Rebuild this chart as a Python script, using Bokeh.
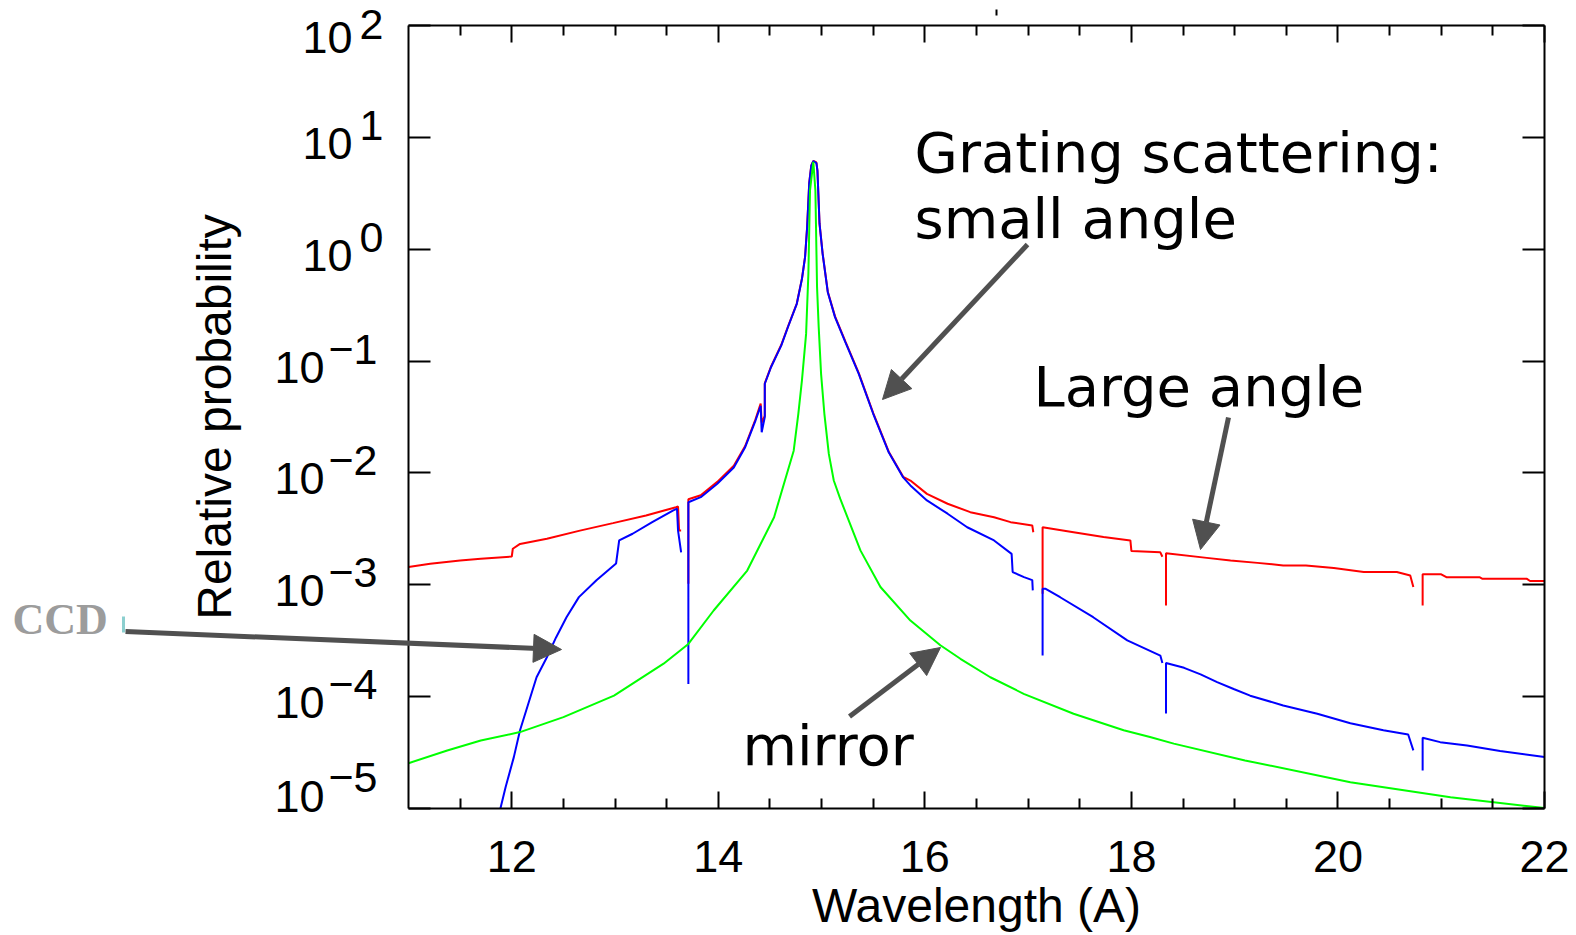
import math
from bokeh.plotting import figure
from bokeh.models import (ColumnDataSource, FixedTicker, LinearAxis, LogAxis, Label,
                          Arrow, NormalHead, CustomJSTickFormatter)
from bokeh.embed import file_html
from bokeh.resources import INLINE

nan = float("nan")

# ---------------- data ----------------
x_major = [12, 14, 16, 18, 20, 22]
x_minor = [11.5, 12.5, 13, 13.5, 14.5, 15, 15.5, 16.5, 17, 17.5, 18.5, 19, 19.5, 20.5, 21, 21.5]
y_major = [1e-5, 1e-4, 1e-3, 1e-2, 1e-1, 1e0, 1e1, 1e2]

# Large angle grating scattering (red)
red_x = [11.00, 11.21, 11.50, 11.70, 12.00, 12.01, 12.08, 12.34, 12.66, 12.98, 13.30, 13.59,
         13.61, 13.62, 13.64, nan,
         13.71, 13.71, 13.83, 13.99, 14.15, 14.26, 14.36, 14.41, 14.42, 14.45, 14.45, 14.51,
         14.61, 14.68, 14.76, 14.81, 14.84, 14.86, 14.88, 14.90, 14.92, 14.95, 14.96, 14.98,
         15.01, 15.06, 15.13, 15.23, 15.36, 15.50, 15.65, 15.79, 15.86, 16.02, 16.22, 16.44,
         16.67, 16.83, 17.04, 17.05, nan,
         17.14, 17.14, 17.44, 17.73, 17.99, 18.00, 18.28, 18.30, nan,
         18.335, 18.335, 18.73, 18.96, 19.22, 19.47, 19.69, 19.96, 20.25, 20.57, 20.70, 20.73, nan,
         20.82, 20.82, 21.00, 21.05, 21.37, 21.40, 21.83, 21.86, 22.00]
red_y = [1.44e-3, 1.54e-3, 1.65e-3, 1.71e-3, 1.79e-3, 2.10e-3, 2.32e-3, 2.58e-3, 3.05e-3, 3.56e-3, 4.17e-3, 4.94e-3,
         5.01e-3, 3.05e-3, 3.05e-3, nan,
         1.02e-3, 5.82e-3, 6.31e-3, 8.32e-3, 1.16e-2, 1.74e-2, 3.02e-2, 4.17e-2, 2.82e-2, 3.24e-2, 6.31e-2, 8.91e-2,
         0.140, 0.210, 0.327, 0.547, 0.855, 1.58, 3.89, 5.62, 6.17, 5.96, 5.01, 1.70,
         0.916, 0.417, 0.251, 0.150, 7.80e-2, 3.43e-2, 1.55e-2, 9.23e-3, 8.55e-3, 6.50e-3, 5.30e-3, 4.46e-3,
         4.02e-3, 3.63e-3, 3.39e-3, 2.95e-3, nan,
         8.32e-4, 3.27e-3, 2.95e-3, 2.67e-3, 2.49e-3, 2.00e-3, 1.95e-3, 1.78e-3, nan,
         6.53e-4, 1.91e-3, 1.74e-3, 1.65e-3, 1.57e-3, 1.49e-3, 1.49e-3, 1.41e-3, 1.30e-3, 1.30e-3, 1.21e-3, 9.55e-4, nan,
         6.53e-4, 1.24e-3, 1.24e-3, 1.17e-3, 1.17e-3, 1.13e-3, 1.13e-3, 1.08e-3, 1.08e-3]

# Small angle grating scattering (blue)
blue_x = [11.89, 11.94, 12.02, 12.08, 12.16, 12.24, 12.34, 12.43, 12.53, 12.65, 12.82, 13.01,
          13.04, 13.17, 13.36, 13.56, 13.60, 13.61, 13.64, nan,
          13.71, 13.71, 13.83, 13.99, 14.15, 14.26, 14.36, 14.41, 14.42, 14.45, 14.45, 14.51,
          14.61, 14.68, 14.76, 14.81, 14.84, 14.86, 14.88, 14.90, 14.92, 14.95, 14.96, 14.98,
          15.01, 15.06, 15.13, 15.23, 15.36, 15.50, 15.65, 15.79, 15.86, 16.02, 16.22, 16.41,
          16.67, 16.84, 16.85, 16.96, 17.04, 17.045, nan,
          17.14, 17.14, 17.17, 17.31, 17.63, 17.96, 18.28, 18.30, nan,
          18.335, 18.335, 18.51, 18.67, 18.83, 18.99, 19.15, 19.47, 19.80, 20.12, 20.44, 20.68, 20.73, nan,
          20.82, 20.82, 20.99, 21.25, 21.57, 22.00]
blue_y = [1.0e-5, 1.55e-5, 2.88e-5, 5.01e-5, 8.63e-5, 1.49e-4, 2.25e-4, 3.40e-4, 5.13e-4, 7.76e-4, 1.10e-3, 1.55e-3,
          2.49e-3, 2.86e-3, 3.63e-3, 4.61e-3, 4.79e-3, 3.05e-3, 1.95e-3, nan,
          1.30e-4, 5.47e-3, 6.07e-3, 8.00e-3, 1.12e-2, 1.70e-2, 2.94e-2, 3.98e-2, 2.31e-2, 3.16e-2, 6.27e-2, 8.81e-2,
          0.138, 0.208, 0.325, 0.543, 0.849, 1.57, 3.85, 5.56, 6.12, 5.89, 5.01, 1.69,
          0.910, 0.413, 0.247, 0.148, 7.69e-2, 3.38e-2, 1.53e-2, 9.12e-3, 7.73e-3, 5.68e-3, 4.32e-3, 3.27e-3,
          2.49e-3, 1.89e-3, 1.30e-3, 1.17e-3, 1.10e-3, 8.91e-4, nan,
          2.33e-4, 9.20e-4, 9.20e-4, 7.74e-4, 5.13e-4, 3.18e-4, 2.33e-4, 2.00e-4, nan,
          7.08e-5, 2.00e-4, 1.81e-4, 1.58e-4, 1.35e-4, 1.17e-4, 1.02e-4, 8.34e-5, 7.03e-5, 5.79e-5, 5.01e-5, 4.59e-5, 3.31e-5, nan,
          2.19e-5, 4.29e-5, 3.92e-5, 3.66e-5, 3.26e-5, 2.88e-5]

# Mirror scattering (green)
green_x = [11.00, 11.375, 11.70, 12.08, 12.50, 12.99, 13.47, 13.71, 13.955, 14.28, 14.54,
           14.73, 14.775, 14.81, 14.85, 14.872, 14.888, 14.92, 14.94, 14.956, 14.972, 14.995, 15.027,
           15.07, 15.118, 15.18, 15.376, 15.57, 15.86, 16.15, 16.344, 16.634, 16.957, 17.44, 17.925,
           18.18, 18.41, 19.10, 20.12, 21.09, 22.00]
green_y = [2.54e-5, 3.30e-5, 4.06e-5, 4.82e-5, 6.56e-5, 1.02e-4, 1.97e-4, 2.96e-4, 5.89e-4, 1.34e-3, 4.02e-3,
           1.58e-2, 3.39e-2, 6.76e-2, 0.175, 0.603, 3.35, 6.03, 3.35, 0.458, 0.201, 7.69e-2, 3.38e-2,
           1.48e-2, 8.55e-3, 5.89e-3, 2.03e-3, 9.55e-4, 4.79e-4, 2.88e-4, 2.18e-4, 1.49e-4, 1.06e-4, 7.03e-5, 5.01e-5,
           4.35e-5, 3.80e-5, 2.69e-5, 1.72e-5, 1.26e-5, 1.01e-5]

# ---------------- layout ----------------
W, H = 1574, 934
X0, X1 = 11, 22              # axis box in data units
LY0, LY1 = -5, 2
PX0, PX1 = 408, 1544         # where the axis box lies on the canvas (px)
PY0, PY1 = 25, 808           # top, bottom
SX = (PX1 - PX0) / (X1 - X0)
SY = (PY1 - PY0) / (LY1 - LY0)

x_start = X0 - PX0 / SX
x_end = X1 + (W - PX1) / SX
y_top = 10 ** (LY1 + PY0 / SY)
y_bot = 10 ** (LY0 - (H - PY1) / SY)


def cx(px):
    """canvas pixel -> data x (annotation placement)"""
    return X0 + (px - PX0) / SX


def cy(py):
    """canvas pixel -> data y (annotation placement)"""
    return 10 ** (LY1 - (py - PY0) / SY)


p = figure(width=W, height=H, x_range=(x_start, x_end), y_range=(y_bot, y_top),
           y_axis_type="log", output_backend="svg", toolbar_location=None, title=None,
           min_border=0, min_border_left=0, min_border_right=0, min_border_top=0, min_border_bottom=0)
p.xgrid.visible = False
p.ygrid.visible = False
p.outline_line_color = None
p.background_fill_color = "white"
p.border_fill_color = "white"

blank = CustomJSTickFormatter(code="return ''")
AX_FONT = "Liberation Sans"

xt = FixedTicker(ticks=x_major, minor_ticks=x_minor)
yt = FixedTicker(ticks=y_major, minor_ticks=[])

xa = p.xaxis[0]
xa.ticker = xt
xa.fixed_location = 10 ** LY0
xa.bounds = (X0, X1)
xa.major_tick_in = 17
xa.major_tick_out = 0
xa.minor_tick_in = 10
xa.minor_tick_out = 0
xa.major_tick_line_width = 2
xa.minor_tick_line_width = 2
xa.axis_line_width = 2
xa.major_label_text_font = AX_FONT
xa.major_label_text_font_size = "45px"
xa.major_label_text_color = "black"
xa.major_label_standoff = 32
xa.axis_label = "Wavelength (A)"
xa.axis_label_text_font = AX_FONT
xa.axis_label_text_font_size = "48px"
xa.axis_label_text_font_style = "normal"
xa.axis_label_text_color = "black"
xa.axis_label_standoff = 4

ya = p.yaxis[0]
ya.ticker = yt
ya.formatter = blank
ya.fixed_location = X0
ya.bounds = (10 ** LY0, 10 ** LY1)
ya.major_tick_in = 22
ya.major_tick_out = 0
ya.minor_tick_line_color = None
ya.major_tick_line_width = 2
ya.axis_line_width = 2
ya.major_label_standoff = 5
ya.axis_label = "Relative probability"
ya.axis_label_text_font = AX_FONT
ya.axis_label_text_font_size = "48px"
ya.axis_label_text_font_style = "normal"
ya.axis_label_text_color = "black"
ya.axis_label_standoff = 168

top = LinearAxis(ticker=xt, formatter=blank, fixed_location=10 ** LY1, bounds=(X0, X1),
                 major_tick_in=17, major_tick_out=0, minor_tick_in=10, minor_tick_out=0,
                 major_tick_line_width=2, minor_tick_line_width=2, axis_line_width=2,
                 major_label_standoff=0)
p.add_layout(top, "above")
right = LogAxis(ticker=yt, formatter=blank, fixed_location=X1, bounds=(10 ** LY0, 10 ** LY1),
                major_tick_in=22, major_tick_out=0, minor_tick_line_color=None,
                major_tick_line_width=2, axis_line_width=2, major_label_standoff=0)
p.add_layout(right, "right")

# y tick labels: "10" with a raised exponent
for t in y_major:
    e = int(round(math.log10(t)))
    neg = e < 0
    base_right = 324 if neg else 352
    exp_left = 328 if neg else 359
    base_off, exp_off = -6, 12
    if e == LY0:
        base_off, exp_off = 12, 31
    if e == LY1:
        base_off, exp_off = -12, 1
    p.add_layout(Label(x=cx(base_right), y=t, text="10", text_align="right",
                       text_baseline="middle", y_offset=base_off, text_font=AX_FONT,
                       text_font_size="45px", text_color="black"))
    p.add_layout(Label(x=cx(exp_left), y=t, text=str(e).replace("-", "\u2212"), text_align="left",
                       text_baseline="middle", y_offset=exp_off, text_font=AX_FONT,
                       text_font_size="43px", text_color="black"))

# curves
for xs, ys, col in [(red_x, red_y, "#ff0000"), (blue_x, blue_y, "#0000ff"), (green_x, green_y, "#00ff00")]:
    src = ColumnDataSource(dict(x=xs, y=ys))
    p.line("x", "y", source=src, line_color=col, line_width=2)

# annotations (text centred vertically on the given canvas y)
TXT_FONT = "DejaVu Sans"
for txt, xp, yp in [("Grating scattering:", 914, 152), ("small angle", 914, 218),
                    ("Large angle", 1033, 386), ("mirror", 742, 745)]:
    p.add_layout(Label(x=cx(xp), y=cy(yp), text=txt, text_align="left", text_baseline="middle",
                       text_font=TXT_FONT, text_font_size="56px", text_color="black"))
p.add_layout(Label(x=cx(12), y=cy(619), text="CCD", text_align="left", text_baseline="middle",
                   text_font="Liberation Serif", text_font_style="bold", text_font_size="44px",
                   text_color="#9c9c9c"))

ARROW = "#505050"
for (x0, y0, x1, y1) in [(1027, 244, 882, 399), (1228, 417, 1200, 549),
                         (125, 631, 561, 649), (849, 716, 940, 647)]:
    p.add_layout(Arrow(x_start=cx(x0), y_start=cy(y0), x_end=cx(x1), y_end=cy(y1),
                       line_color=ARROW, line_width=5,
                       end=NormalHead(size=28, fill_color=ARROW, line_color=ARROW, line_width=1)))
# little teal bracket at the CCD arrow start and a stray tick above the frame
p.add_layout(Arrow(x_start=cx(123), y_start=cy(616), x_end=cx(123), y_end=cy(632),
                   line_color="#8ccfcf", line_width=3, end=None))
p.add_layout(Arrow(x_start=cx(996), y_start=cy(9), x_end=cx(996), y_end=cy(15),
                   line_color="black", line_width=2, end=None))

open("out.html", "w").write(file_html(p, INLINE))
